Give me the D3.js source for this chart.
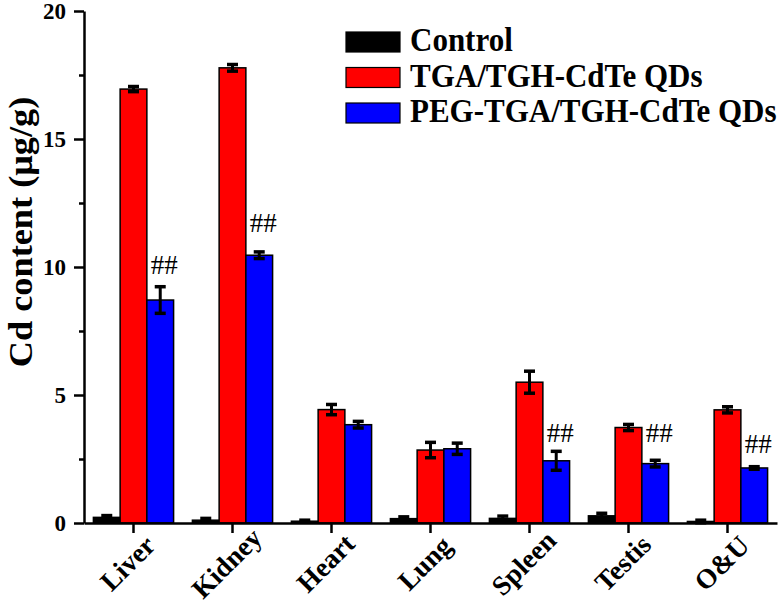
<!DOCTYPE html>
<html>
<head>
<meta charset="utf-8">
<script src="https://cdn.jsdelivr.net/npm/d3@7"></script>
<style>
  html, body { margin: 0; padding: 0; background: #fff; }
  svg { display: block; font-family: "Liberation Serif", "Times New Roman", serif; }
</style>
</head>
<body>
<svg id="chart" width="782" height="606"></svg>
<script>
// ---- data ----
const categories = ["Liver", "Kidney", "Heart", "Lung", "Spleen", "Testis", "O&U"];
const seriesNames = ["Control", "TGA/TGH-CdTe QDs", "PEG-TGA/TGH-CdTe QDs"];
const controlValues = [0.22, 0.11, 0.07, 0.17, 0.18, 0.28, 0.06];
const controlErrors = [0.07, 0.07, 0.04, 0.07, 0.09, 0.10, 0.05];
const tgaValues = [16.95, 17.78, 4.43, 2.85, 5.50, 3.73, 4.42];
const tgaErrors = [0.10, 0.13, 0.20, 0.30, 0.43, 0.12, 0.12];
const pegValues = [8.71, 10.46, 3.84, 2.90, 2.43, 2.32, 2.15];
const pegErrors = [0.52, 0.13, 0.13, 0.22, 0.37, 0.13, 0.05];
const sigLabels = ["##", "##", "", "", "##", "##", "##"];
const sigLevel = [9.73, 11.37, null, null, 3.18, 3.18, 2.73];
const yMajorTicks = [0, 5, 10, 15, 20];
const yMinorTicks = [2.5, 7.5, 12.5, 17.5];
const colors = ["#000000", "#ff0000", "#0000ff"];

const seriesValues = [controlValues, tgaValues, pegValues];
const seriesErrors = [controlErrors, tgaErrors, pegErrors];

// ---- layout ----
const svg = d3.select("#chart");
svg.append("rect").attr("width", 782).attr("height", 606).attr("fill", "#fff");

const plotLeft = 84, plotRight = 777, plotTop = 11, plotBottom = 523;

const y = d3.scaleLinear().domain([0, 20]).range([plotBottom, plotTop]);
const x = d3.scaleBand().domain(categories).range([plotLeft, plotRight])
  .paddingInner(0.19).paddingOuter(0.095);
const x1 = d3.scaleBand().domain(seriesNames).range([0, x.bandwidth()]).padding(0);

// ---- bars ----
const rows = [];
categories.forEach((c, i) => {
  seriesNames.forEach((s, j) => {
    rows.push({ cat: c, ser: s, j, v: seriesValues[j][i], e: seriesErrors[j][i] });
  });
});

const g = svg.append("g");
g.selectAll("rect.bar").data(rows).join("rect")
  .attr("class", "bar")
  .attr("x", d => x(d.cat) + x1(d.ser))
  .attr("width", x1.bandwidth())
  .attr("y", d => y(d.v))
  .attr("height", d => y(0) - y(d.v))
  .attr("fill", d => colors[d.j])
  .attr("stroke", "#000")
  .attr("stroke-width", 1.5);

// ---- error bars ----
const eg = g.append("g").attr("stroke", "#000");
rows.forEach(d => {
  const cx = x(d.cat) + x1(d.ser) + x1.bandwidth() / 2;
  const yt = y(d.v + d.e), yb = y(Math.max(0, d.v - d.e));
  eg.append("line").attr("x1", cx).attr("x2", cx).attr("y1", yt).attr("y2", yb).attr("stroke-width", 3);
  [yt, yb].forEach(yy => {
    eg.append("line").attr("x1", cx - 5.5).attr("x2", cx + 5.5).attr("y1", yy).attr("y2", yy).attr("stroke-width", 3.5);
  });
});

// ---- significance marks ----
categories.forEach((c, i) => {
  if (!sigLabels[i]) return;
  const cx = x(c) + x1(seriesNames[2]) + x1.bandwidth() / 2 + 4;
  svg.append("text")
    .attr("x", cx).attr("y", y(sigLevel[i]))
    .attr("text-anchor", "middle")
    .attr("font-size", 27)
    .attr("font-weight", "normal")
    .attr("fill", "#000")
    .text(sigLabels[i]);
});

// ---- axes ----
const yAxis = svg.append("g").attr("transform", `translate(${plotLeft},0)`)
  .call(d3.axisLeft(y).tickValues(yMajorTicks).tickSize(10).tickSizeOuter(0).tickPadding(8).tickFormat(d3.format("d")));
yAxis.select(".domain").attr("stroke-width", 2.5);
yAxis.selectAll(".tick line").attr("stroke-width", 2.5);
yAxis.selectAll(".tick text").attr("font-size", 23).attr("font-weight", "bold")
  .attr("font-family", "'Liberation Serif', 'Times New Roman', serif");

const yMinor = svg.append("g").attr("transform", `translate(${plotLeft},0)`)
  .call(d3.axisLeft(y).tickValues(yMinorTicks).tickSize(5).tickSizeOuter(0).tickFormat(""));
yMinor.select(".domain").remove();
yMinor.selectAll(".tick line").attr("stroke-width", 2.5);

const xAxis = svg.append("g").attr("transform", `translate(0,${plotBottom})`)
  .call(d3.axisBottom(x).tickSize(10).tickSizeOuter(0).tickFormat(""));
xAxis.select(".domain").attr("stroke-width", 2.5);
xAxis.selectAll(".tick line").attr("stroke-width", 2.5);

// rotated category labels
categories.forEach(c => {
  const cx = x(c) + x.bandwidth() / 2 - 6;
  const cy = 563;
  svg.append("text")
    .attr("transform", `translate(${cx},${cy}) rotate(-45)`)
    .attr("text-anchor", "middle")
    .attr("dy", "0.35em")
    .attr("font-size", 27.5)
    .attr("font-weight", "bold")
    .attr("fill", "#000")
    .text(c);
});

// y-axis title
svg.append("text")
  .attr("transform", `translate(32,232) rotate(-90) scale(1.1,1)`)
  .attr("text-anchor", "middle")
  .attr("font-size", 33)
  .attr("font-weight", "bold")
  .attr("fill", "#000")
  .text("Cd content (μg/g)");

// ---- legend ----
const leg = svg.append("g");
seriesNames.forEach((s, j) => {
  const yy = 32 + j * 35.5;
  leg.append("rect").attr("x", 346).attr("y", yy).attr("width", 54).attr("height", 20)
    .attr("fill", colors[j]).attr("stroke", "#000").attr("stroke-width", 1.2);
  leg.append("text").attr("transform", `translate(410,${yy + 19}) scale(1,1.06)`)
    .attr("font-size", 31).attr("font-weight", "bold").attr("fill", "#000")
    .text(s);
});
</script>
</body>
</html>
